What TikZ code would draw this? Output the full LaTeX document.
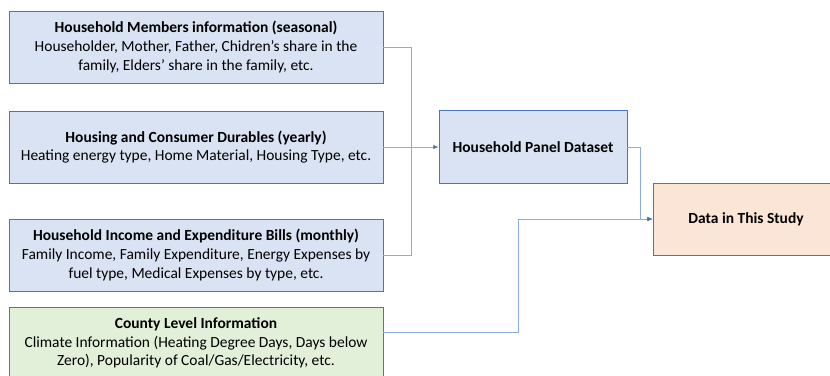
\documentclass[tikz,border=0pt]{standalone}
\usepackage{fontspec}
\setmainfont{Carlito}
\usepackage{xcolor}
\usetikzlibrary{arrows.meta,calc,positioning}

\definecolor{boxblue}{HTML}{DAE3F3}
\definecolor{boxgreen}{HTML}{E2F0D9}
\definecolor{boxorange}{HTML}{FBE5D6}
\definecolor{edgeblue}{HTML}{4A74C0}
\definecolor{lineblue}{HTML}{8FAADC}

\begin{document}
\begin{tikzpicture}[x=0.75pt,y=-0.75pt,
  font=\fontsize{11.6}{13.9}\selectfont,
  srcbox/.style={draw=edgeblue,line width=0.6pt,fill=boxblue,align=center,
    minimum width=280.5pt,minimum height=54pt,inner sep=0pt},
  link/.style={draw=lineblue,line width=0.6pt},
  tip/.style={-{Latex[length=4pt,width=3.5pt,color=edgeblue]}}]
  \useasboundingbox (0,0) rectangle (830,375);
  % source tables
  \node[srcbox] (members) at (196,47)
    {\textbf{Household Members information (seasonal)}\\Householder, Mother, Father, Chidren's share in the\\family, Elders' share in the family, etc.};
  \node[srcbox] (housing) at (196,147)
    {\textbf{Housing and Consumer Durables (yearly)}\\Heating energy type, Home Material, Housing Type, etc.};
  \node[srcbox] (income) at (196,255)
    {\textbf{Household Income and Expenditure Bills (monthly)}\\Family Income, Family Expenditure, Energy Expenses by\\fuel type, Medical Expenses by type, etc.};
  \begin{scope}
    \clip (0,0) rectangle (830,375);
    \node[srcbox,fill=boxgreen] (county) at (196,343)
      {\textbf{County Level Information}\\Climate Information (Heating Degree Days, Days below\\Zero), Popularity of Coal/Gas/Electricity, etc.};
    \node[srcbox,fill=boxorange,minimum width=139.5pt] (study) at (746,219)
      {\textbf{Data in This Study}};
  \end{scope}
  \node[srcbox,minimum width=141pt,minimum height=54.75pt] (panel) at (533,147)
    {\textbf{Household Panel Dataset}};
  % connectors
  \coordinate (merge) at (411,147);
  \coordinate (panelturn) at (640,0);
  \coordinate (countyturn) at (518,0);
  \draw[link] (members.east) -| (merge);
  \draw[link] (income.east) -| (merge);
  \draw[link,tip] (housing.east) -- (panel.west);
  \draw[link,tip] (panel.east) -- (panel.east -| panelturn) |- (study.west);
  \draw[link,tip] ($(county.east)+(0,-11)$) -- ($(county.east -| countyturn)+(0,-11)$) |- (study.west);
\end{tikzpicture}
\end{document}
